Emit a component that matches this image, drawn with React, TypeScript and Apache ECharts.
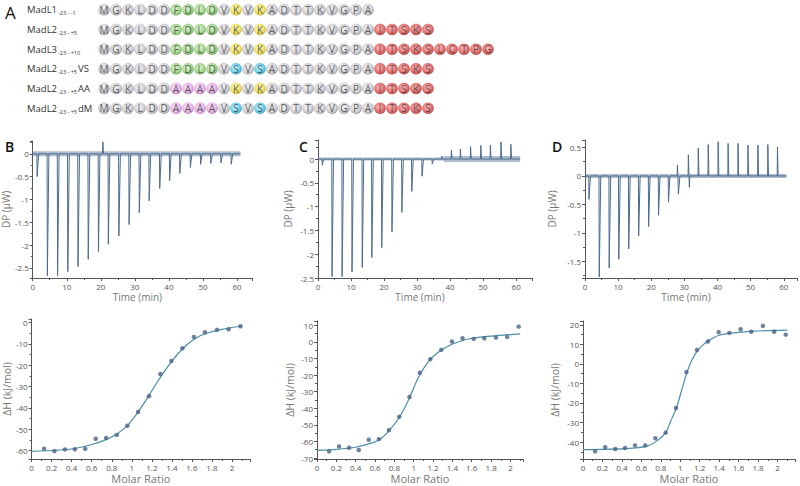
import React, { useEffect, useRef } from "react";
import * as echarts from "echarts";

// ---------------- Panel A: peptide constructs ----------------
const constructNames = ["MadL1", "MadL2", "MadL3", "MadL2", "MadL2", "MadL2"];
const constructRanges = ["-23 - -1", "-23 - +5", "-23 - +10", "-23 - +5", "-23 - +5", "-23 - +5"];
const constructSuffixes = ["", "", "", "VS", "AA", "dM"];
const sequences = [
  "MGKLDDFDLDVKVKADTTKVGPA",
  "MGKLDDFDLDVKVKADTTKVGPAITSKS",
  "MGKLDDFDLDVKVKADTTKVGPAITSKSLCTPG",
  "MGKLDDFDLDVSVSADTTKVGPAITSKS",
  "MGKLDDAAAAVKVKADTTKVGPAITSKS",
  "MGKLDDAAAAVSVSADTTKVGPAITSKS",
];
// n = neutral, h = hydrophobic motif, a = alanine substitution, k = lysine, s = serine substitution, c = C-terminal extension
const residueGroups = [
  "nnnnnnhhhhnknknnnnnnnnn",
  "nnnnnnhhhhnknknnnnnnnnnccccc",
  "nnnnnnhhhhnknknnnnnnnnncccccccccc",
  "nnnnnnhhhhnsnsnnnnnnnnnccccc",
  "nnnnnnaaaanknknnnnnnnnnccccc",
  "nnnnnnaaaansnsnnnnnnnnnccccc",
];

// ---------------- Thermograms (DP vs time) ----------------
const bInjectionTimes = [1.3, 4.3, 7.3, 10.3, 13.3, 16.3, 19.3, 22.2, 25.3, 28.3, 31.3, 34.2, 37.3, 40.2, 43.2, 46.3, 49.3, 52.3, 55.3, 58.3];
const bPeakDP = [-0.5, -2.67, -2.67, -2.58, -2.47, -2.31, -2.14, -1.98, -1.8, -1.55, -1.29, -1.03, -0.76, -0.59, -0.43, -0.3, -0.23, -0.21, -0.2, -0.23];
const bSpikeTimes = [20.6];
const bSpikeDP = [0.26];
const bEndTime = 61;

const cInjectionTimes = [1.3, 4.25, 7.3, 10.3, 13.4, 16.3, 19.3, 22.4, 25.4, 28.4, 31.5, 34.6, 37.5, 40.4, 43.1, 46.2, 49.3, 52.2, 55.4, 58.4];
const cPeakDP = [-0.13, -2.47, -2.47, -2.37, -2.28, -2.07, -1.86, -1.53, -1.12, -0.68, -0.36, -0.1, 0.06, 0.18, 0.21, 0.26, 0.29, 0.29, 0.36, 0.31];
const cSpikeTimes: number[] = [];
const cSpikeDP: number[] = [];
const cEndTime = 61.2;

const dInjectionTimes = [1.2, 4.3, 7.3, 10.2, 13.2, 16.2, 19.2, 22.2, 25.2, 28.2, 31.2, 34.2, 37.2, 40.2, 43.2, 46.2, 49.2, 52.2, 55.2, 58.1];
const dPeakDP = [-0.41, -1.77, -1.61, -1.46, -1.28, -1.05, -0.89, -0.69, -0.46, -0.32, 0.37, 0.49, 0.55, 0.6, 0.57, 0.57, 0.54, 0.54, 0.55, 0.51];
const dSpikeTimes = [27.9, 31.5];
const dSpikeDP = [0.19, -0.2];
const dEndTime = 60.8;

// ---------------- Isotherms (ΔH vs molar ratio) ----------------
const molarRatio = [0.125, 0.228, 0.332, 0.432, 0.535, 0.64, 0.744, 0.85, 0.956, 1.063, 1.172, 1.285, 1.395, 1.505, 1.62, 1.73, 1.85, 1.966, 2.085];
const bHeat = [-59.2, -60.3, -59.5, -59.4, -59.2, -54.5, -54.1, -52.7, -48.4, -41.9, -34.5, -24.1, -18.0, -12.0, -6.7, -4.5, -3.4, -3.1, -1.7];
const cHeat = [-66, -63, -63.8, -65.2, -59, -58.6, -53.2, -45.2, -33.2, -18.6, -10.4, -4.8, 0.2, 2.2, 1.8, 2.2, 2.6, 3.0, 9.2];
const dHeat = [-44.8, -42.7, -43.6, -43.1, -41.7, -41.7, -38.1, -35.2, -22.6, -4.2, 7.2, 11.5, 16.3, 15.9, 17.8, 16.5, 19.5, 16.5, 15.0];

const bFitRatio = [0, 0.2, 0.4, 0.6, 0.75, 0.85, 0.95, 1.05, 1.15, 1.25, 1.35, 1.45, 1.55, 1.65, 1.75, 1.9, 2.1];
const bFitHeat = [-60.4, -60.0, -59.3, -57.2, -54.8, -52.3, -48.6, -42.8, -35.8, -28.2, -21.2, -15.2, -10.4, -7.0, -5.0, -3.2, -1.6];
const cFitRatio = [0, 0.2, 0.4, 0.55, 0.65, 0.75, 0.85, 0.95, 1.05, 1.15, 1.25, 1.35, 1.45, 1.6, 1.8, 2.1];
const cFitHeat = [-65.4, -64.8, -63.5, -61.2, -58.8, -53.2, -45.6, -34.6, -21.2, -12.0, -6.4, -2.8, -0.2, 2.2, 3.5, 4.8];
const dFitRatio = [0, 0.2, 0.44, 0.65, 0.75, 0.85, 0.9, 0.96, 1.02, 1.07, 1.12, 1.18, 1.24, 1.3, 1.4, 1.55, 1.75, 2.1];
const dFitHeat = [-43.9, -43.8, -43.4, -42.2, -39.8, -35.2, -29.5, -22.6, -12.5, -4.2, 2.0, 6.9, 10.0, 12.2, 14.7, 15.9, 16.8, 17.3];

// ---------------- styling ----------------
const FONT = "'Open Sans', 'Noto Sans', sans-serif";
const AXIS_COLOR = "#555";
const TRACE_COLOR = "#4c6b8e";
const POINT_COLOR = "#4a6286";
const FIT_COLOR = "#4a8fa8";

const groupStops: Record<string, [string, string, string]> = {
  n: ["#f4f4f6", "#c9c9ce", "#8e8e95"],
  h: ["#def3d2", "#8fd273", "#5d9f47"],
  a: ["#fbe4fb", "#e6a4e6", "#b877b8"],
  k: ["#fffbc0", "#efe03c", "#bfae1d"],
  s: ["#d2f5ff", "#41c6ea", "#1f92b6"],
  c: ["#ffb0b0", "#e14a4a", "#a82626"],
};

function groupFill(g: string) {
  const s = groupStops[g] || groupStops.n;
  return {
    type: "radial",
    x: 0.42,
    y: 0.4,
    r: 0.62,
    colorStops: [
      { offset: 0, color: s[0] },
      { offset: 0.65, color: s[1] },
      { offset: 1, color: s[2] },
    ],
  };
}

function buildTrace(times: number[], peaks: number[], spikeT: number[], spikeV: number[], endT: number) {
  const events = times
    .map((t, i) => ({ t, v: peaks[i], w: peaks[i] < 0 ? 0.45 : 0.2 }))
    .concat(spikeT.map((t, i) => ({ t, v: spikeV[i], w: 0.15 })));
  events.sort((a, b) => a.t - b.t);
  const pts: number[][] = [[0, 0]];
  events.forEach((e) => {
    pts.push([e.t - 0.08, 0], [e.t, e.v], [e.t + e.w, 0]);
  });
  pts.push([endT, 0]);
  return pts;
}

function fmt(v: number) {
  return String(Math.round(v * 100) / 100);
}

function valueAxis(
  gridIndex: number,
  min: number,
  max: number,
  splitNumber: number,
  step: number,
  extra: any = {}
) {
  return {
    type: "value",
    gridIndex,
    min,
    max,
    splitNumber,
    splitLine: { show: false },
    axisLine: { show: true, onZero: false, lineStyle: { color: AXIS_COLOR, width: 1 } },
    axisTick: { show: true, inside: false, length: 3, lineStyle: { color: AXIS_COLOR } },
    minorTick: { show: true, splitNumber: 2, length: 2, lineStyle: { color: AXIS_COLOR } },
    axisLabel: {
      fontSize: 8,
      color: "#555",
      fontFamily: FONT,
      margin: 4,
      formatter: (v: number) => {
        const r = v / step;
        return Math.abs(r - Math.round(r)) < 1e-6 ? fmt(v) : "";
      },
    },
    nameLocation: "middle",
    nameTextStyle: { color: "#777", fontFamily: FONT, fontSize: 10 },
    ...extra,
  };
}

export default function App() {
  const ref = useRef<HTMLDivElement>(null);

  useEffect(() => {
    if (!ref.current) return;
    const chart = echarts.init(ref.current, undefined, { renderer: "svg" });

    const seqData: any[] = [];
    sequences.forEach((seq, r) => {
      seq.split("").forEach((ch, i) => {
        seqData.push({ name: ch, value: [i, r], itemStyle: { color: groupFill(residueGroups[r][i]) } });
      });
    });

    const grids = [
      { left: 98, top: -2, width: 396, height: 120 },
      { left: 32, top: 141, width: 220, height: 137 },
      { left: 318, top: 140, width: 214, height: 138 },
      { left: 585, top: 140, width: 213, height: 138 },
      { left: 31, top: 319, width: 219, height: 140 },
      { left: 317, top: 321, width: 206, height: 138 },
      { left: 583, top: 321, width: 212, height: 138 },
    ];

    const timeName = (g: number) =>
      valueAxis(g, 0, g === 1 ? 64.4 : g === 2 ? 64.8 : 64, 6, 10, {
        name: "Time (min)",
        nameGap: 14,
        nameTextStyle: { color: "#777", fontFamily: FONT, fontSize: 10, padding: [0, 10, 0, 0] },
      });
    const ratioAxis = (g: number, max: number) =>
      valueAxis(g, 0, max, 11, 0.2, {
        name: "Molar Ratio",
        nameGap: 14,
        nameTextStyle: { color: "#777", fontFamily: FONT, fontSize: 11 },
      });

    const xAxes = [
      { type: "value", gridIndex: 0, min: -0.5, max: 32.5, show: false },
      timeName(1),
      timeName(2),
      timeName(3),
      ratioAxis(4, 2.18),
      ratioAxis(5, 2.13),
      ratioAxis(6, 2.18),
    ];

    const yAxes = [
      {
        type: "category",
        gridIndex: 0,
        inverse: true,
        data: constructNames.map((n, i) => String(i)),
        axisLine: { show: false },
        axisTick: { show: false },
        splitLine: { show: false },
        axisLabel: {
          align: "left",
          margin: 71,
          formatter: (v: string) => {
            const i = Number(v);
            let s = `{n|${constructNames[i]}}{s|${constructRanges[i]}}`;
            if (constructSuffixes[i]) s += `{n|${constructSuffixes[i]}}`;
            return s;
          },
          rich: {
            n: { fontSize: 9.5, color: "#333", fontFamily: FONT, lineHeight: 13 },
            s: { fontSize: 5.5, color: "#333", fontFamily: FONT, verticalAlign: "bottom", lineHeight: 6, padding: [0, 1, 0, 1] },
          },
        },
      },
      valueAxis(1, -2.72, 0.28, 6, 0.5, { name: "DP (μW)", nameGap: 19 }),
      valueAxis(2, -2.5, 0.4, 6, 0.5, { name: "DP (μW)", nameGap: 25 }),
      valueAxis(3, -1.79, 0.63, 5, 0.5, { name: "DP (μW)", nameGap: 28 }),
      valueAxis(4, -64, 1.7, 6, 10, { name: "ΔH (kJ/mol)", nameGap: 17, nameTextStyle: { color: "#777", fontFamily: FONT, fontSize: 10.5 } }),
      valueAxis(5, -70.6, 12.6, 8, 10, { name: "ΔH (kJ/mol)", nameGap: 22, nameTextStyle: { color: "#777", fontFamily: FONT, fontSize: 10.5 } }),
      valueAxis(6, -48.7, 22, 7, 10, { name: "ΔH (kJ/mol)", nameGap: 23, nameTextStyle: { color: "#777", fontFamily: FONT, fontSize: 10.5 } }),
    ];

    const bandSeries = (idx: number, from: number, to: number, width: number) => ({
      type: "line",
      xAxisIndex: idx,
      yAxisIndex: idx,
      data: [
        [from, 0],
        [to, 0],
      ],
      showSymbol: false,
      silent: true,
      z: 2,
      lineStyle: { color: "#5f7b9d", width, opacity: 0.5 },
    });
    const traceSeries = (idx: number, data: number[][]) => ({
      type: "line",
      xAxisIndex: idx,
      yAxisIndex: idx,
      data,
      showSymbol: false,
      silent: true,
      z: 3,
      lineStyle: { color: TRACE_COLOR, width: 1 },
    });
    const pointSeries = (idx: number, ys: number[]) => ({
      type: "scatter",
      xAxisIndex: idx,
      yAxisIndex: idx,
      data: molarRatio.map((x, i) => [x, ys[i]]),
      symbolSize: 4.5,
      silent: true,
      z: 4,
      itemStyle: { color: POINT_COLOR },
    });
    const fitSeries = (idx: number, xs: number[], ys: number[]) => ({
      type: "line",
      xAxisIndex: idx,
      yAxisIndex: idx,
      data: xs.map((x, i) => [x, ys[i]]),
      smooth: 0.25,
      showSymbol: false,
      silent: true,
      z: 3,
      lineStyle: { color: FIT_COLOR, width: 1.2 },
    });

    const option: any = {
      animation: false,
      textStyle: { fontFamily: FONT },
      grid: grids,
      xAxis: xAxes,
      yAxis: yAxes,
      graphic: [
        { type: "text", left: 5, top: 4, style: { text: "A", fontSize: 17, fill: "#111", fontFamily: FONT } },
        { type: "text", left: 5, top: 139, style: { text: "B", fontSize: 14, fontWeight: 600, fill: "#111", fontFamily: FONT } },
        { type: "text", left: 299, top: 139, style: { text: "C", fontSize: 14, fontWeight: 600, fill: "#111", fontFamily: FONT } },
        { type: "text", left: 552, top: 139, style: { text: "D", fontSize: 14, fontWeight: 600, fill: "#111", fontFamily: FONT } },
      ],
      series: [
        {
          type: "scatter",
          xAxisIndex: 0,
          yAxisIndex: 0,
          symbol: "circle",
          symbolSize: 11.5,
          data: seqData,
          silent: true,
          itemStyle: { borderColor: "rgba(0,0,0,0.12)", borderWidth: 0.5 },
          label: {
            show: true,
            position: "inside",
            formatter: "{b}",
            fontSize: 10,
            color: "#333",
            fontFamily: FONT,
          },
        },
        bandSeries(1, 0, bEndTime, 5),
        traceSeries(1, buildTrace(bInjectionTimes, bPeakDP, bSpikeTimes, bSpikeDP, bEndTime)),
        bandSeries(2, 0, 38, 3),
        bandSeries(2, 38, cEndTime, 6),
        traceSeries(2, buildTrace(cInjectionTimes, cPeakDP, cSpikeTimes, cSpikeDP, cEndTime)),
        bandSeries(3, 0, dEndTime, 4),
        traceSeries(3, buildTrace(dInjectionTimes, dPeakDP, dSpikeTimes, dSpikeDP, dEndTime)),
        fitSeries(4, bFitRatio, bFitHeat),
        pointSeries(4, bHeat),
        fitSeries(5, cFitRatio, cFitHeat),
        pointSeries(5, cHeat),
        fitSeries(6, dFitRatio, dFitHeat),
        pointSeries(6, dHeat),
      ],
    };

    chart.setOption(option);
    return () => chart.dispose();
  }, []);

  return (
    <div
      ref={ref}
      style={{ position: "fixed", left: 0, top: 0, width: 800, height: 486, background: "#fff" }}
    />
  );
}
